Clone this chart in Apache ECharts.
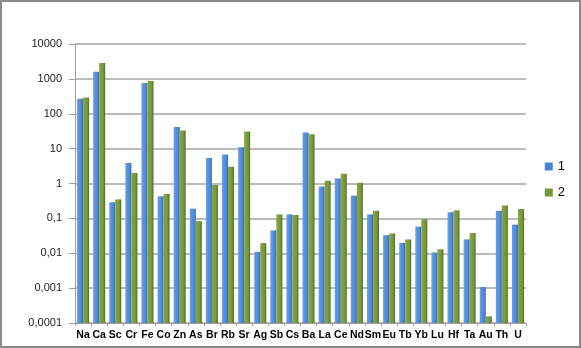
<!DOCTYPE html>
<html><head><meta charset="utf-8">
<script src="https://cdn.jsdelivr.net/npm/echarts@6/dist/echarts.min.js"></script>
<style>html,body{margin:0;padding:0;background:#fff}#c{width:581px;height:348px;box-sizing:border-box;border:2px solid #8a8a8a;}</style>
</head><body><div id="c"></div>
<script>
const categories = ['Na','Ca','Sc','Cr','Fe','Co','Zn','As','Br','Rb','Sr','Ag','Sb','Cs','Ba','La','Ce','Nd','Sm','Eu','Tb','Yb','Lu','Hf','Ta','Au','Th','U'];
const series1 = [270,1600,0.29,3.9,760,0.43,42,0.19,5.4,6.8,11,0.011,0.045,0.13,29,0.82,1.4,0.45,0.13,0.033,0.02,0.058,0.0105,0.15,0.025,0.00108,0.165,0.066];
const series2 = [290,2850,0.35,2.0,870,0.5,33,0.083,0.9,3.0,31,0.0195,0.13,0.125,26,1.2,1.9,1.05,0.165,0.037,0.025,0.095,0.013,0.17,0.038,0.000155,0.235,0.185];
const yTickLabels = ['0,0001','0,001','0,01','0,1','1','10','100','1000','10000'];
const seriesNames = ['1','2'];
const axisMin = 0.0001;

const chart = echarts.init(document.getElementById('c'));
const blue = new echarts.graphic.LinearGradient(0,0,1,0,[{offset:0,color:'#6a9ee6'},{offset:0.75,color:'#4a85d6'},{offset:1,color:'#3566a8'}]);
const green = new echarts.graphic.LinearGradient(0,0,1,0,[{offset:0,color:'#86a845'},{offset:0.7,color:'#76953a'},{offset:1,color:'#51662a'}]);
const baseData = categories.map(() => axisMin);
const rest = arr => arr.map(v => v - axisMin);
chart.setOption({
  animation:false,
  grid:{left:73,right:53,top:42,bottom:23,containLabel:false},
  legend:{orient:'vertical',right:9,top:153,itemWidth:8,itemHeight:8,itemGap:13,
    textStyle:{fontFamily:'Liberation Sans',fontSize:13,color:'#000'},
    data:[{name:'1',icon:'rect',itemStyle:{color:'#4a86d8'}},{name:'2',icon:'rect',itemStyle:{color:'#77953b'}}]},
  xAxis:{type:'category',data:categories,
    axisLine:{onZero:false,lineStyle:{color:'#a0a0a0',width:1}},
    axisTick:{show:true,lineStyle:{color:'#a0a0a0'},length:3},
    axisLabel:{interval:0,margin:7,fontFamily:'Liberation Sans',fontWeight:'bold',fontSize:10.5,color:'#000'}},
  yAxis:{type:'log',logBase:10,min:axisMin,max:10000,
    axisLine:{show:true,lineStyle:{color:'#a0a0a0'}},
    axisTick:{show:true,length:6,lineStyle:{color:'#a0a0a0'}},
    splitLine:{lineStyle:{color:'#a6a6a6',width:1.5}},
    axisLabel:{margin:13,fontFamily:'Liberation Sans',fontSize:11,color:'#222',
      formatter:function(v){return yTickLabels[Math.round(Math.log10(v))+4];}}},
  series:[
    {name:'base1',type:'bar',stack:'a',data:baseData,barWidth:6,barGap:'0%',itemStyle:{color:'transparent'},silent:true},
    {name:seriesNames[0],type:'bar',stack:'a',data:rest(series1),barWidth:6,barGap:'0%',itemStyle:{color:blue}},
    {name:'base2',type:'bar',stack:'b',data:baseData,barWidth:6,itemStyle:{color:'transparent'},silent:true},
    {name:seriesNames[1],type:'bar',stack:'b',data:rest(series2),barWidth:6,itemStyle:{color:green}}
  ]
});
</script></body></html>
